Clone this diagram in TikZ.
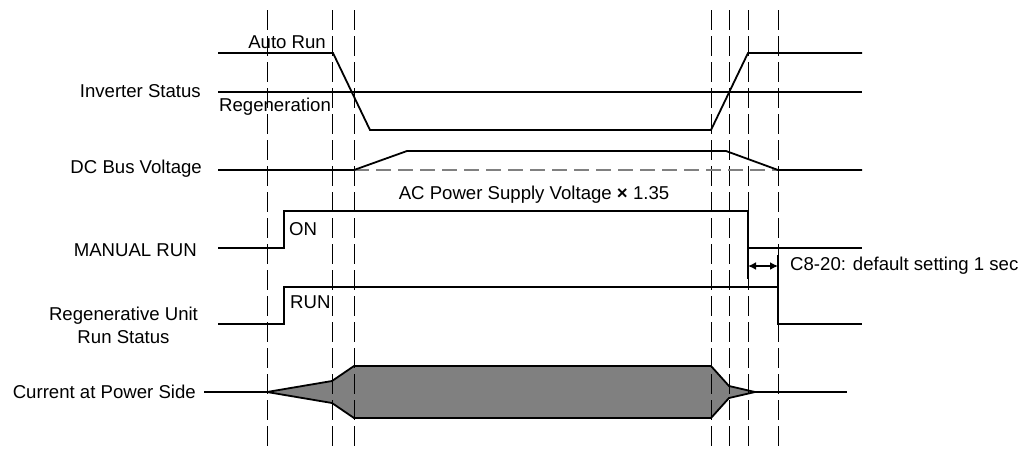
\documentclass[tikz,border=0pt]{standalone}
\usepackage{fontspec}
\setmainfont{Liberation Sans}
\usetikzlibrary{arrows.meta}
\begin{document}
\begin{tikzpicture}[x=1pt,y=-1pt,
  sig/.style={line width=1.8pt, line join=miter},
  vdash/.style={line width=1pt, dash pattern=on 20pt off 6pt},
  refdash/.style={line width=1.6pt, gray, dash pattern=on 15pt off 7pt},
  lbl/.style={font=\fontsize{18.6}{23}\selectfont, inner sep=0pt},
  curfill/.style={fill=gray}]
\useasboundingbox (0,0) rectangle (1027,450);

% current envelope (fill)
\coordinate (c0) at (267,392);
\coordinate (c1) at (332,381);
\coordinate (c2) at (354,366);
\coordinate (c3) at (711,366);
\coordinate (c4) at (729,386);
\coordinate (c5) at (755,392);
\coordinate (c6) at (729,398);
\coordinate (c7) at (711,418);
\coordinate (c8) at (354,418);
\coordinate (c9) at (332,403);
\fill[curfill] (c0) -- (c1) -- (c2) -- (c3) -- (c4) -- (c5) -- (c6) -- (c7) -- (c8) -- (c9) -- cycle;

% dashed time markers
\foreach \x/\n in {267/t1,332/t2,354/t3,711/t4,729/t5,748/t6,778/t7}{
  \coordinate (\n top) at (\x,10);
  \coordinate (\n bot) at (\x,450);
  \draw[vdash] (\n top) -- (\n bot);
}

% labels
\node[lbl, anchor=east] (linv) at (201,91) {Inverter Status};
\node[lbl, anchor=east] (ldc) at (202,169) {DC Bus Voltage};
\node[lbl, anchor=east] (lman) at (197,250) {MANUAL RUN};
\node[lbl, align=center] (lreg) at (123.5,325) {Regenerative Unit\\Run Status};
\node[lbl, anchor=east] (lcur) at (196,392) {Current at Power Side};
\node[lbl, anchor=east] (lauto) at (326,42) {Auto Run};
\node[lbl, anchor=west] (lregen) at (219,107) {Regeneration};
\node[lbl] (lon) at (303,229) {ON};
\node[lbl, anchor=west] (lrun) at (290,302) {RUN};
\node[lbl] (lac) at (534,195) {AC Power Supply Voltage \textbf{×} 1.35};
\node[lbl, anchor=west] (lc8) at (790,266) {C8-20: default setting 1 sec};

% Inverter status
\draw[sig] (218,53) -- (333,53) -- (370,130) -- (711,130) -- (748,53) -- (862,53);
\draw[sig] (218,92) -- (862,92);

% DC bus voltage
\draw[refdash] (354,170) -- (778,170);
\draw[sig] (218,170) -- (354,170) -- (407,151) -- (726,151) -- (778,170) -- (862,170);

% MANUAL RUN
\draw[sig] (218,248) -- (284,248) -- (284,211) -- (748,211) -- (748,248) -- (862,248);

% Regenerative unit run status
\draw[sig] (218,324) -- (284,324) -- (284,287) -- (778,287) -- (778,324) -- (862,324);

% current at power side
\draw[sig] (c0) -- (c1) -- (c2) -- (c3) -- (c4) -- (c5) -- (c6) -- (c7) -- (c8) -- (c9) -- cycle;
\draw[sig] (204,392) -- (c0);
\draw[sig] (c5) -- (847,392);

% dimension 1 sec
\coordinate (d1) at (748,266);
\coordinate (d2) at (778,266);
\draw[sig] (748,248) -- (748,279);
\draw[sig] (778,255) -- (778,287);
\draw[line width=1.6pt, {Latex[length=8pt,width=8pt]}-{Latex[length=8pt,width=8pt]}] (d1) -- (d2);
\end{tikzpicture}
\end{document}
